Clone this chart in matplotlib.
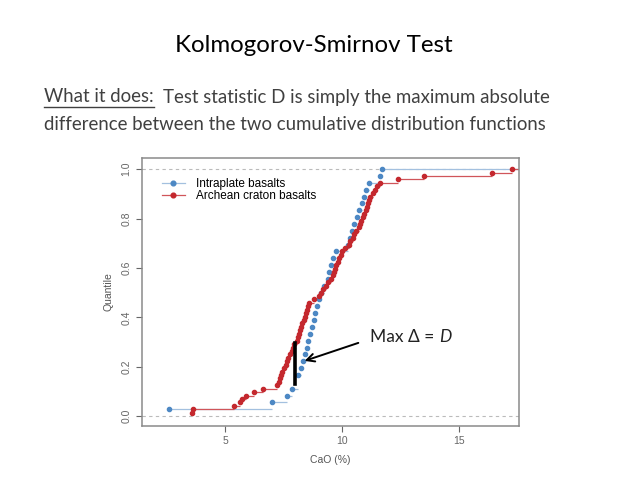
import matplotlib
matplotlib.use("Agg")
import matplotlib.pyplot as plt
from matplotlib.lines import Line2D
import numpy as np

# CaO (%) values
intraplate = [2.6, 7.0, 7.65, 7.85, 8.12, 8.12, 8.25, 8.33, 8.4, 8.48,
              8.55, 8.62, 8.7, 8.78, 8.85, 8.93, 9.0, 9.1, 9.22, 9.38,
              9.44, 9.53, 9.6, 9.74, 10.26, 10.34, 10.43, 10.52, 10.65, 10.73,
              10.86, 10.95, 11.03, 11.16, 11.6, 11.68]
archean = [3.6, 3.62, 5.4, 5.65, 5.7, 5.9, 6.25, 6.6, 7.2, 7.3,
           7.35, 7.4, 7.45, 7.5, 7.6, 7.65, 7.7, 7.75, 7.85, 7.9,
           7.95, 8.05, 8.1, 8.15, 8.2, 8.25, 8.3, 8.35, 8.4, 8.45,
           8.5, 8.55, 8.6, 8.8, 9.0, 9.1, 9.2, 9.3, 9.4, 9.5,
           9.6, 9.65, 9.7, 9.75, 9.8, 9.85, 9.95, 10.0, 10.1, 10.3,
           10.35, 10.45, 10.5, 10.6, 10.7, 10.75, 10.8, 10.9, 10.95, 11.0,
           11.05, 11.1, 11.15, 11.2, 11.3, 11.4, 11.5, 11.6, 12.4, 13.5,
           16.4, 17.25]
series_names = ["Intraplate basalts", "Archean craton basalts"]
point_colors = ["#4d88c4", "#c4282e"]
line_colors = ["#a3c0df", "#d0555a"]

d_x = 8.0
d_lo, d_hi = 0.13, 0.295

xlim = (1.45, 17.55)
ylim = (-0.04, 1.045)

plt.rcParams['font.family'] = ['Liberation Sans', 'DejaVu Sans']
fig = plt.figure(figsize=(6.4, 4.8), dpi=100)
fig.patch.set_facecolor("white")

slide_font = ["Lato", "DejaVu Sans"]
sub_size = 13.4

# slide text
fig.text(314 / 640, 1 - 45 / 480, "Kolmogorov-Smirnov Test", ha="center", va="center",
         fontsize=17.3, family=slide_font, color="black")
lead = fig.text(44 / 640, 1 - 97 / 480, "What it does:", ha="left", va="center",
                fontsize=sub_size, family=slide_font, color="#404040")
fig.canvas.draw()
bb = lead.get_window_extent()
fig.text((bb.x1 + 9) / 640, 1 - 97 / 480,
         "Test statistic D is simply the maximum absolute",
         ha="left", va="center", fontsize=sub_size, family=slide_font,
         color="#404040")
fig.add_artist(Line2D([bb.x0 / 640, bb.x1 / 640], [(bb.y0 - 1) / 480] * 2,
                      color="#404040", lw=1))
fig.text(44 / 640, 1 - 124 / 480,
         "difference between the two cumulative distribution functions",
         ha="left", va="center", fontsize=sub_size, family=slide_font,
         color="#404040")

ax = fig.add_axes([142 / 640, 1 - 426 / 480, (519 - 142) / 640, (426 - 158) / 480])
ax.set_xlim(*xlim)
ax.set_ylim(*ylim)

ax.axhline(0, color="#bbbbbb", lw=0.8, ls=(0, (3, 3)))
ax.axhline(1, color="#bbbbbb", lw=0.8, ls=(0, (3, 3)))

for vals, pc, lc in zip([intraplate, archean], point_colors, line_colors):
    xs = np.sort(np.array(vals))
    knots, counts = np.unique(xs, return_counts=True)
    levels = np.cumsum(counts) / len(xs)
    ends = np.append(knots[1:], xlim[1])
    ax.hlines(levels, knots, ends, colors=lc, lw=0.9, zorder=2)
    ax.plot(knots, levels, "o", color=pc, ms=3.0, mec=pc, zorder=3)

ax.plot([d_x, d_x], [d_lo, d_hi], color="black", lw=2.6, zorder=4)
ax.annotate("", xy=(8.28, 0.22), xytext=(10.8, 0.30),
            arrowprops=dict(arrowstyle="->", lw=1.4, color="black",
                            mutation_scale=14))
ax.text(11.2, 0.32, "Max \u0394 =", fontsize=12.5, family=slide_font,
        va="center", ha="left", color="#222222")
fig.canvas.draw()
t = ax.texts[-1].get_window_extent()
fig.text((t.x1 + 5) / 640, t.y0 / 480 + (t.y1 - t.y0) / 2 / 480, "D",
         fontsize=12.5, family=slide_font, style="italic",
         va="center", ha="left", color="#222222")

ax.set_xticks([5, 10, 15])
ax.set_yticks([0.0, 0.2, 0.4, 0.6, 0.8, 1.0])
ax.set_yticklabels(["0.0", "0.2", "0.4", "0.6", "0.8", "1.0"], rotation=90, va="center")
ax.tick_params(labelsize=7.5, colors="#666666", length=4, width=0.8)
for s in ax.spines.values():
    s.set_color("#8a8a8a")
    s.set_linewidth(1.1)
ax.set_xlabel("CaO (%)", fontsize=7.5, color="#555555", labelpad=6)
ax.set_ylabel("Quantile", fontsize=7.5, color="#555555", labelpad=6)

handles = [Line2D([], [], color=lc, marker="o", mfc=pc, mec=pc, ms=3.4, lw=0.9)
           for pc, lc in zip(point_colors, line_colors)]
ax.legend(handles, series_names, loc="upper left", bbox_to_anchor=(0.03, 0.955),
          frameon=False, fontsize=8.5, handlelength=2.0, handletextpad=0.9,
          labelspacing=0.0, borderpad=0.2)

fig.savefig("out.png", dpi=100, facecolor="white")
